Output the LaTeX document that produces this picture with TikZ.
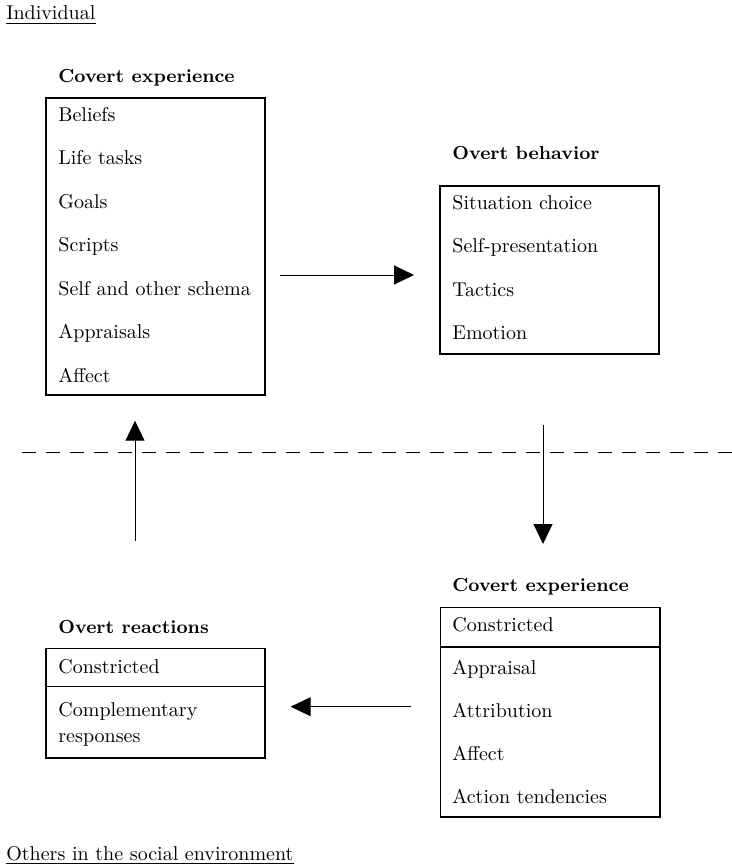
\documentclass[tikz,border=0pt]{standalone}
\usetikzlibrary{arrows.meta}
\begin{document}
\begin{tikzpicture}[x=0.5pt,y=-0.5pt,
  panel/.style={draw, line width=0.75pt, inner sep=0pt, minimum width=109.5pt},
  item/.style={anchor=base west, inner sep=0pt, font=\fontsize{10}{12}\selectfont},
  heading/.style={anchor=base west, inner sep=0pt, font=\fontsize{9.4}{11}\selectfont\bfseries},
  rule/.style={line width=0.4pt},
  flow/.style={line width=0.5pt, -{Triangle[length=10pt,width=9.5pt]}},
  divider/.style={line width=0.75pt}]
\useasboundingbox (0,0) rectangle (732,867);

% region labels, underlined
\node[item] (indiv) at (6,19.5) {Individual};
\draw[rule] ([yshift=-1.9pt]indiv.base west) -- ([yshift=-1.9pt]indiv.base east);
\node[item] (others) at (6,860) {Others in the social environment};
\draw[rule] ([yshift=-1.9pt]others.base west) -- ([yshift=-1.9pt]others.base east);

% boundary between the individual and the social environment
\draw[line width=0.5pt, dash pattern=on 7pt off 5pt] (22,452) coordinate (dl) -- (732,452) coordinate (dr);

% covert experience of the individual
\node[heading] (h1) at (58,82) {Covert experience};
\node[panel, minimum height=148.5pt] (ce1) at (155.5,246.5) {};
\node[item] (b1) at (58,121) {Beliefs};
\node[item] (b2) at (58,164.5) {Life tasks};
\node[item] (b3) at (58,208) {Goals};
\node[item] (b4) at (58,251.5) {Scripts};
\node[item] (b5) at (58,295) {Self and other schema};
\node[item] (b6) at (58,338.5) {Appraisals};
\node[item] (b7) at (58,382) {Affect};

% overt behavior
\node[heading] (h2) at (452,159.5) {Overt behavior};
\node[panel, minimum height=84pt] (ob) at (549.5,270) {};
\node[item] (o1) at (452,209) {Situation choice};
\node[item] (o2) at (452,252.5) {Self-presentation};
\node[item] (o3) at (452,296) {Tactics};
\node[item] (o4) at (452,339.5) {Emotion};

% covert experience of others
\node[heading] (h4) at (452,591) {Covert experience};
\node[panel, minimum height=104.7pt, minimum width=109.7pt] (ce2) at (550.3,712.3) {};
\draw[divider] (ce2.west |- 0,647) coordinate (d2l) -- (ce2.east |- 0,647) coordinate (d2r);
\node[item] (c1) at (452,631) {Constricted};
\node[item] (c2) at (452,674) {Appraisal};
\node[item] (c3) at (452,717) {Attribution};
\node[item] (c4) at (452,760) {Affect};
\node[item] (c5) at (452,803) {Action tendencies};

% overt reactions of others
\node[heading] (h3) at (58,633) {Overt reactions};
\node[panel, minimum height=54.7pt] (orx) at (155.5,703.3) {};
\draw[divider] (orx.west |- 0,686.7) coordinate (d3l) -- (orx.east |- 0,686.7) coordinate (d3r);
\node[item] (r1) at (58,673) {Constricted};
\node[item] (r2) at (58,716) {Complementary};
\node[item] (r3) at (58,742) {responses};

% connectors between the panels
\coordinate (a1s) at (280,275);   \coordinate (a1e) at (414,275);
\coordinate (a2s) at (543,425);   \coordinate (a2e) at (543,544);
\coordinate (a3s) at (411,706.7); \coordinate (a3e) at (290.7,706.7);
\coordinate (a4s) at (135,540.7); \coordinate (a4e) at (135,420.7);
\draw[flow] (a1s) -- (a1e);
\draw[flow] (a2s) -- (a2e);
\draw[flow] (a3s) -- (a3e);
\draw[flow] (a4s) -- (a4e);
\end{tikzpicture}
\end{document}
